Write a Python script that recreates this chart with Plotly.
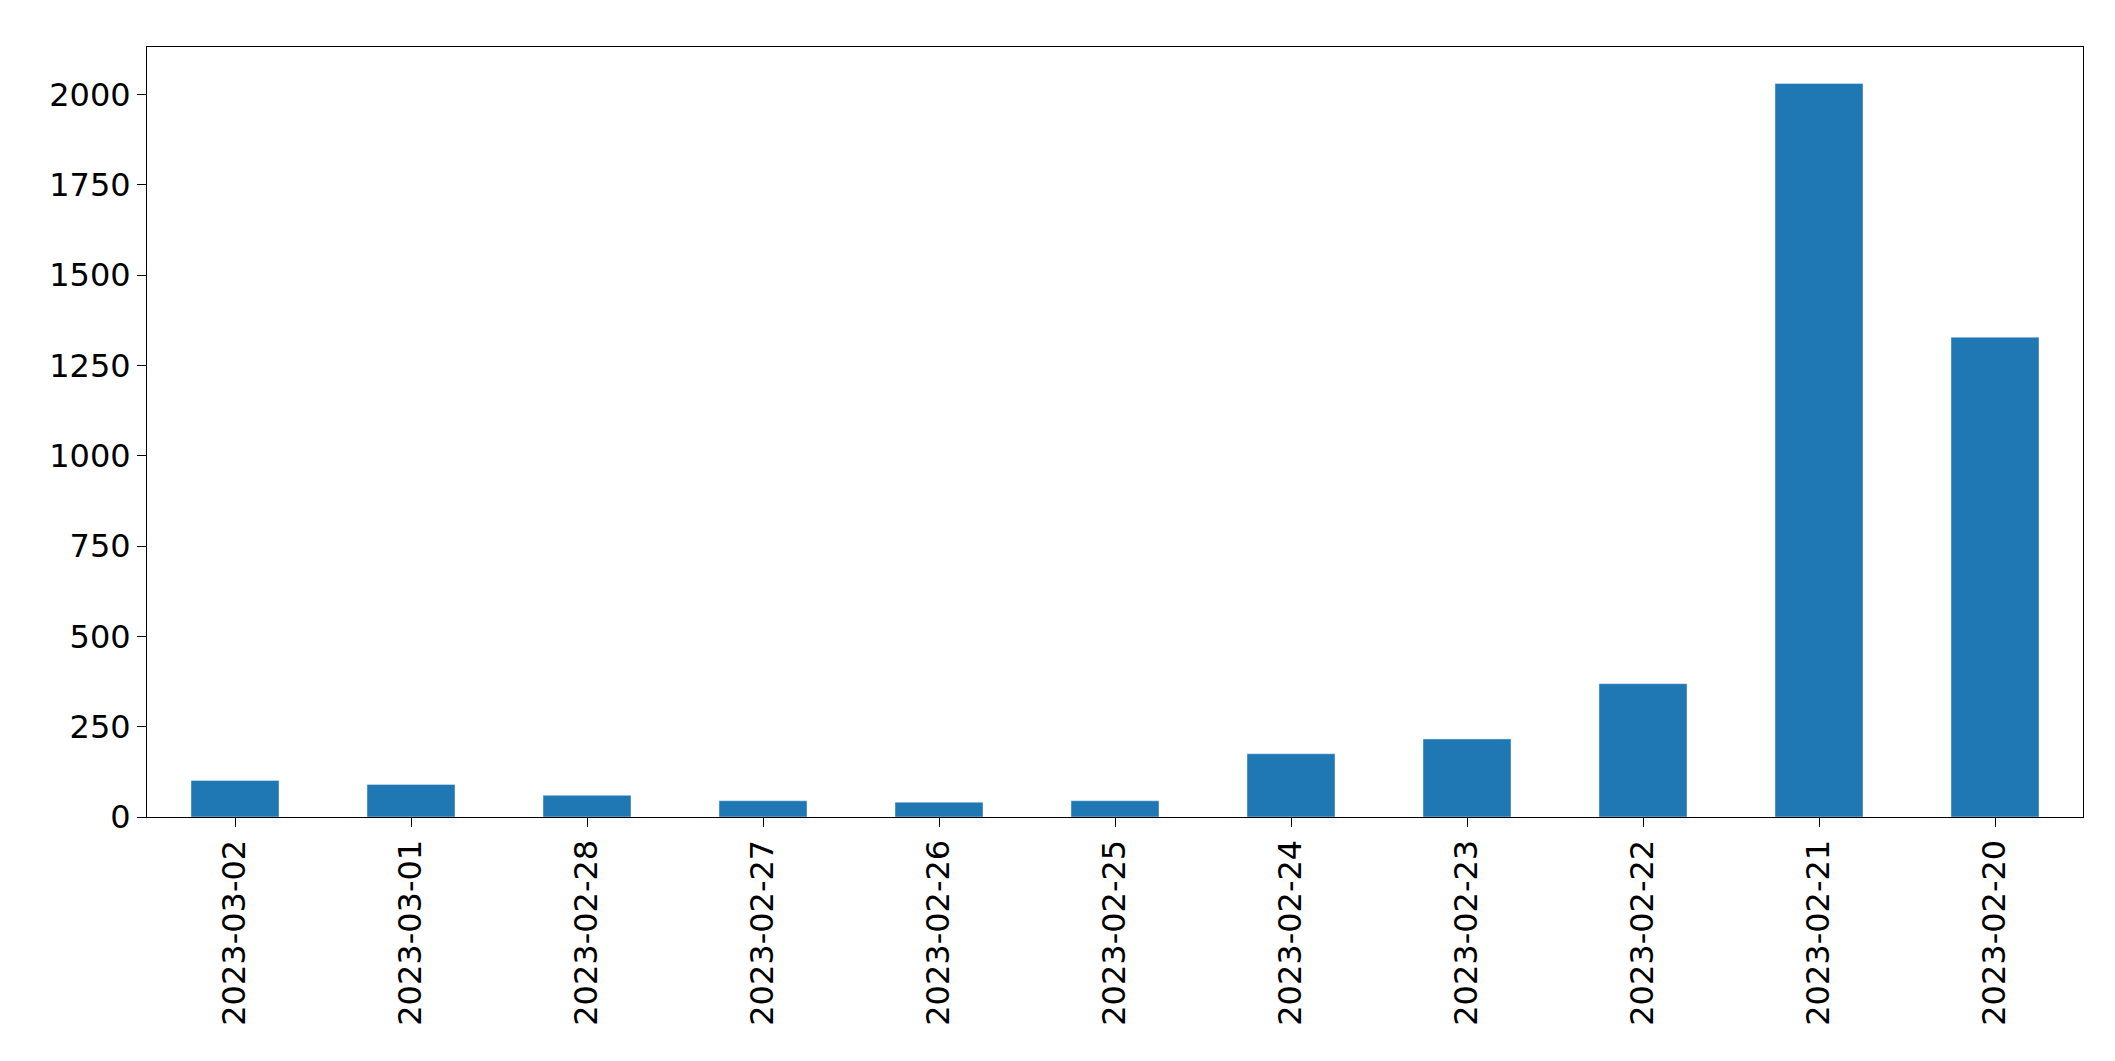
import plotly.graph_objects as go

dates = ["2023-03-02", "2023-03-01", "2023-02-28", "2023-02-27", "2023-02-26", "2023-02-25",
         "2023-02-24", "2023-02-23", "2023-02-22", "2023-02-21", "2023-02-20"]
counts = [101, 90, 60, 45, 41, 45, 175, 216, 369, 2030, 1328]

fig = go.Figure(go.Bar(x=dates, y=counts, marker_color="#1f77b4", width=0.5))

fig.update_layout(
    width=2115, height=1061,
    paper_bgcolor="white", plot_bgcolor="white",
    margin=dict(l=139, r=40, t=39, b=252),
    font=dict(family="DejaVu Sans", size=32, color="black"),
    showlegend=False,
)
fig.update_xaxes(type="category", range=[-0.5, 10.5], tickangle=-90,
                 showline=True, linecolor="black", mirror=True,
                 ticks="outside", ticklen=9, tickcolor="black", showgrid=False)
fig.update_yaxes(range=[0, 2131], tickvals=list(range(0, 2001, 250)),
                 showline=True, linecolor="black", mirror=True,
                 ticks="outside", ticklen=9, tickcolor="black", showgrid=False, zeroline=False)

fig.write_html("out.html")
